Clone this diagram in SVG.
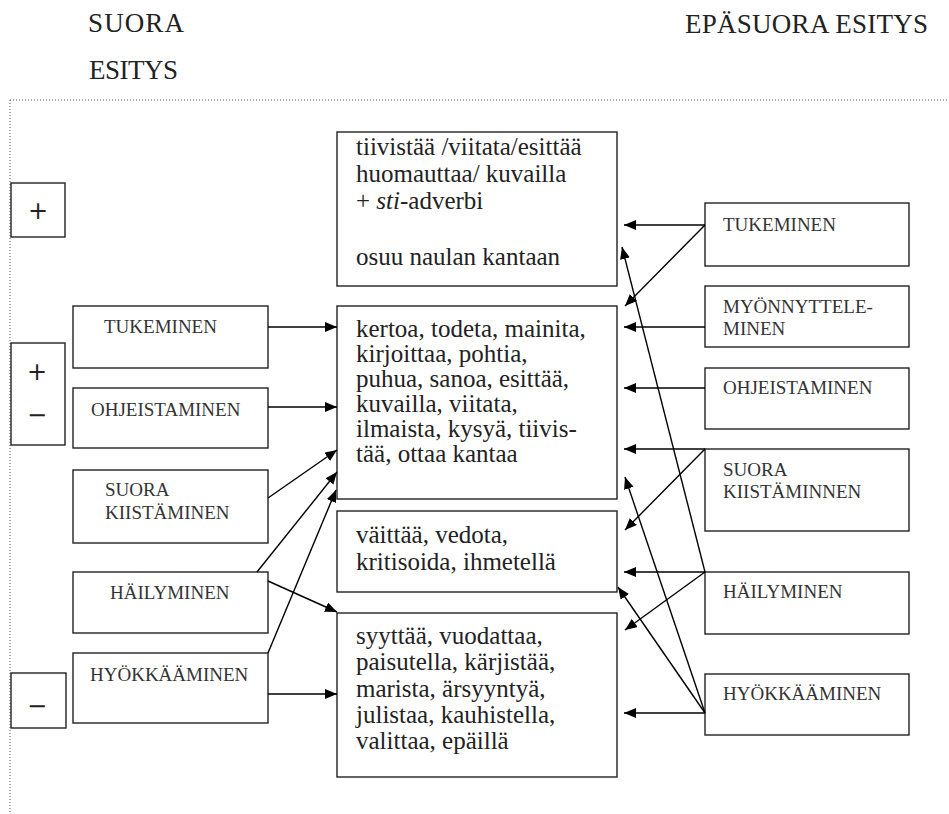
<svg xmlns="http://www.w3.org/2000/svg" width="949" height="814" viewBox="0 0 949 814">
<defs>
<marker id="ah" markerUnits="userSpaceOnUse" markerWidth="13" markerHeight="11" refX="12" refY="5" orient="auto">
<path d="M0,0 L12,5 L0,10 z" fill="#000"/>
</marker>
<style>
.bx{fill:#fff;stroke:#222;stroke-width:1.4}
.sg{fill:#fff;stroke:#222;stroke-width:1.4}
.lb{font-family:"Liberation Serif",serif;font-size:19px;fill:#333}
.ct{font-family:"Liberation Serif",serif;font-size:25px;fill:#222}
.hd{font-family:"Liberation Serif",serif;font-size:27px;fill:#222}
.sy{font-family:"DejaVu Sans","Liberation Sans",sans-serif;font-size:24px;fill:#222;text-anchor:middle}
.cn line{stroke:#000;stroke-width:1.4;marker-end:url(#ah)}
</style>
</defs>
<rect width="949" height="814" fill="#fff"/>
<g id="headers">
<text class="hd" x="88" y="32" textLength="96">SUORA</text>
<text class="hd" x="89" y="79" textLength="89">ESITYS</text>
<text class="hd" x="685" y="33" textLength="243">EPÄSUORA ESITYS</text>
</g>
<g id="frame" stroke="#555" stroke-width="1" stroke-dasharray="1 2" fill="none">
<line x1="10" y1="100" x2="949" y2="100"/>
<line x1="10" y1="100" x2="10" y2="814"/>
</g>
<g id="sign-plus"><rect class="sg" x="11" y="183" width="54" height="54"/><text class="sy" x="38" y="219">+</text></g>
<g id="sign-plusminus"><rect class="sg" x="11" y="343" width="54" height="102"/><text class="sy" x="37" y="380">+</text><text class="sy" x="37" y="423">−</text></g>
<g id="sign-minus"><rect class="sg" x="11" y="673" width="55" height="55"/><text class="sy" x="37" y="714">−</text></g>
<g id="l-tukeminen"><rect class="bx" x="73" y="306" width="195" height="62"/><text class="lb" x="104" y="333">TUKEMINEN</text></g>
<g id="l-ohjeistaminen"><rect class="bx" x="73" y="388" width="195" height="60"/><text class="lb" x="91" y="416">OHJEISTAMINEN</text></g>
<g id="l-suora"><rect class="bx" x="73" y="470" width="195" height="73"/><text class="lb" x="105" y="496">SUORA</text><text class="lb" x="105" y="519">KIISTÄMINEN</text></g>
<g id="l-hailyminen"><rect class="bx" x="73" y="572" width="195" height="61"/><text class="lb" x="110" y="599">HÄILYMINEN</text></g>
<g id="l-hyokkaaminen"><rect class="bx" x="73" y="653" width="195" height="70"/><text class="lb" x="90" y="681">HYÖKKÄÄMINEN</text></g>
<g id="c-box1"><rect class="bx" x="337" y="132" width="280" height="154"/>
<text class="ct" x="356" y="155">tiivistää /viitata/esittää</text>
<text class="ct" x="356" y="182">huomauttaa/ kuvailla</text>
<text class="ct" x="356" y="209">+ <tspan font-style="italic">sti</tspan>-adverbi</text>
<text class="ct" x="356" y="265">osuu naulan kantaan</text></g>
<g id="c-box2"><rect class="bx" x="337" y="306" width="280" height="193"/>
<text class="ct" x="356" y="337">kertoa, todeta, mainita,</text>
<text class="ct" x="356" y="362">kirjoittaa, pohtia,</text>
<text class="ct" x="356" y="387">puhua, sanoa, esittää,</text>
<text class="ct" x="356" y="412">kuvailla, viitata,</text>
<text class="ct" x="356" y="437">ilmaista, kysyä, tiivis-</text>
<text class="ct" x="356" y="462">tää, ottaa kantaa</text></g>
<g id="c-box3"><rect class="bx" x="337" y="511" width="280" height="81"/>
<text class="ct" x="356" y="543">väittää, vedota,</text>
<text class="ct" x="356" y="570">kritisoida, ihmetellä</text></g>
<g id="c-box4"><rect class="bx" x="337" y="613" width="280" height="164"/>
<text class="ct" x="356" y="644">syyttää, vuodattaa,</text>
<text class="ct" x="356" y="670">paisutella, kärjistää,</text>
<text class="ct" x="356" y="697">marista, ärsyyntyä,</text>
<text class="ct" x="356" y="723">julistaa, kauhistella,</text>
<text class="ct" x="356" y="749">valittaa, epäillä</text></g>
<g id="r-tukeminen"><rect class="bx" x="705" y="203" width="204" height="63"/><text class="lb" x="723" y="231">TUKEMINEN</text></g>
<g id="r-myonnyttele"><rect class="bx" x="705" y="286" width="204" height="61"/><text class="lb" x="723" y="313">MYÖNNYTTELE-</text><text class="lb" x="723" y="335">MINEN</text></g>
<g id="r-ohjeistaminen"><rect class="bx" x="705" y="368" width="204" height="61"/><text class="lb" x="723" y="394">OHJEISTAMINEN</text></g>
<g id="r-suora"><rect class="bx" x="705" y="449" width="204" height="82"/><text class="lb" x="723" y="476">SUORA</text><text class="lb" x="723" y="498">KIISTÄMINNEN</text></g>
<g id="r-hailyminen"><rect class="bx" x="705" y="572" width="204" height="62"/><text class="lb" x="723" y="598">HÄILYMINEN</text></g>
<g id="r-hyokkaaminen"><rect class="bx" x="705" y="674" width="204" height="61"/><text class="lb" x="723" y="700">HYÖKKÄÄMINEN</text></g>
<g id="connectors" class="cn">
<line x1="268" y1="327" x2="337" y2="327"/>
<line x1="268" y1="407" x2="337" y2="407"/>
<line x1="268" y1="498" x2="337" y2="450"/>
<line x1="257" y1="572" x2="337" y2="472"/>
<line x1="268" y1="653" x2="336" y2="490"/>
<line x1="268" y1="581" x2="337" y2="612"/>
<line x1="268" y1="694" x2="337" y2="694"/>
<line x1="705" y1="225" x2="624" y2="225"/>
<line x1="705" y1="225" x2="625" y2="306"/>
<line x1="705" y1="327" x2="624" y2="327"/>
<line x1="705" y1="388" x2="624" y2="388"/>
<line x1="705" y1="449" x2="624" y2="449"/>
<line x1="705" y1="449" x2="625" y2="530"/>
<line x1="705" y1="572" x2="624" y2="572"/>
<line x1="705" y1="572" x2="625" y2="630"/>
<line x1="705" y1="572" x2="622" y2="247"/>
<line x1="705" y1="713" x2="624" y2="713"/>
<line x1="705" y1="713" x2="618" y2="587"/>
<line x1="705" y1="713" x2="625" y2="477"/>
</g>
</svg>
